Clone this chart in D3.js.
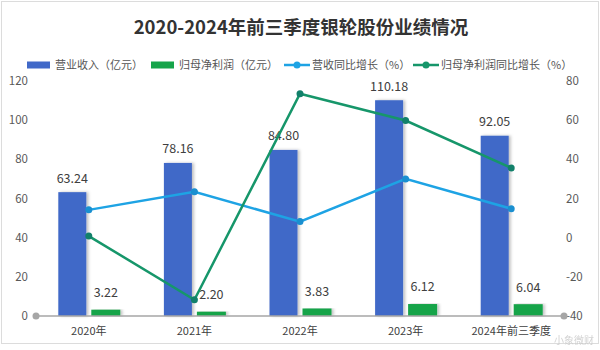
<!DOCTYPE html>
<html>
<head>
<meta charset="utf-8">
<script src="https://cdn.jsdelivr.net/npm/d3@7"></script>
<style>
  body { margin: 0; background: #fff; }
  text { font-family: "Noto Sans CJK SC", "Noto Sans", sans-serif; }
</style>
</head>
<body>
<div id="chart"></div>
<script>
var categories = ['2020年', '2021年', '2022年', '2023年', '2024年前三季度'];
var revenue = [63.24, 78.16, 84.80, 110.18, 92.05];
var netProfit = [3.22, 2.20, 3.83, 6.12, 6.04];
var revenueGrowth = [14.2, 23.4, 8.2, 30.0, 14.8];
var profitGrowth = [0.8, -31.7, 73.5, 59.8, 35.6];
var leftTicks = [0, 20, 40, 60, 80, 100, 120];
var rightTicks = [-40, -20, 0, 20, 40, 60, 80];

var width = 600, height = 350;
var margin = {top: 81, right: 36, bottom: 34, left: 36};

var svg = d3.select('#chart').append('svg')
    .attr('width', width)
    .attr('height', height);

var defs = svg.append('defs');
var shadow = defs.append('filter').attr('id', 'shadow')
    .attr('x', '-20%').attr('y', '-5%').attr('width', '160%').attr('height', '110%');
shadow.append('feDropShadow')
    .attr('dx', 2).attr('dy', 0).attr('stdDeviation', 1.5)
    .attr('flood-color', '#000').attr('flood-opacity', 0.25);

// frame
svg.append('rect')
    .attr('x', 1.5).attr('y', 1.5)
    .attr('width', width - 3).attr('height', 342)
    .attr('fill', '#fff')
    .attr('stroke', '#dcdcdc');

var x = d3.scaleBand()
    .domain(categories)
    .range([margin.left, width - margin.right]);

var yL = d3.scaleLinear().domain([0, 120]).range([height - margin.bottom, margin.top]);
var yR = d3.scaleLinear().domain([-40, 80]).range([height - margin.bottom, margin.top]);

svg.append('text')
    .attr('x', 301).attr('y', 34)
    .attr('text-anchor', 'middle')
    .attr('font-size', 18.5)
    .attr('font-weight', 'bold')
    .attr('fill', '#333')
    .text('2020-2024年前三季度银轮股份业绩情况');

// legend
var legend = svg.append('g').attr('transform', 'translate(0,65)');
var legendItems = [
    {label: '营业收入（亿元）', type: 'bar', color: '#4169c8', x: 27},
    {label: '归母净利润（亿元）', type: 'bar', color: '#16a44a', x: 151},
    {label: '营收同比增长（%）', type: 'line', color: '#1ea3e4', x: 284},
    {label: '归母净利润同比增长（%）', type: 'line', color: '#16966a', x: 413}
];
legendItems.forEach(function (d) {
    var g = legend.append('g').attr('transform', 'translate(' + d.x + ',0)');
    if (d.type === 'bar') {
        g.append('rect').attr('x', 0).attr('y', -3.5).attr('width', 23).attr('height', 7).attr('fill', d.color);
    } else {
        g.append('line').attr('x1', 0).attr('x2', 26).attr('y1', 0).attr('y2', 0)
            .attr('stroke', d.color).attr('stroke-width', 2.5);
        g.append('circle').attr('cx', 13).attr('cy', 0).attr('r', 3.5).attr('fill', d.color);
    }
    g.append('text')
        .attr('x', 28).attr('y', 0).attr('dy', '0.35em')
        .attr('font-size', 11)
        .attr('fill', '#555')
        .text(d.label);
});

// axes tick labels
svg.append('g').selectAll('text')
    .data(leftTicks)
    .enter().append('text')
    .attr('x', 28)
    .attr('y', function (d) { return yL(d); })
    .attr('dy', '0.35em')
    .attr('text-anchor', 'end')
    .attr('font-size', 11.5)
    .attr('fill', '#595959')
    .text(function (d) { return d; });

svg.append('g').selectAll('text')
    .data(rightTicks)
    .enter().append('text')
    .attr('x', 566)
    .attr('y', function (d) { return yR(d); })
    .attr('dy', '0.35em')
    .attr('font-size', 11.5)
    .attr('fill', '#595959')
    .text(function (d) { return d; });

var barW = 28;
var bw = x.bandwidth();

svg.append('g').selectAll('rect')
    .data(revenue)
    .enter().append('rect')
    .attr('x', function (d, i) { return x(categories[i]) + bw / 2 - 16.5 - barW / 2; })
    .attr('y', function (d) { return yL(d); })
    .attr('width', barW)
    .attr('height', function (d) { return yL(0) - yL(d); })
    .attr('fill', '#4169c8')
    .attr('filter', 'url(#shadow)');

svg.append('g').selectAll('rect')
    .data(netProfit)
    .enter().append('rect')
    .attr('x', function (d, i) { return x(categories[i]) + bw / 2 + 17 - 14.5; })
    .attr('y', function (d) { return yL(d); })
    .attr('width', 29)
    .attr('height', function (d) { return yL(0) - yL(d); })
    .attr('fill', '#16a44a')
    .attr('filter', 'url(#shadow)');

// baseline axis
var axisY = yL(0);
svg.append('line')
    .attr('x1', x.range()[0]).attr('x2', x.range()[1])
    .attr('y1', axisY).attr('y2', axisY)
    .attr('stroke', '#a6a6a6').attr('stroke-width', 1.5);
svg.selectAll('circle.end')
    .data(x.range())
    .enter().append('circle')
    .attr('class', 'end')
    .attr('cx', function (d) { return d; })
    .attr('cy', axisY)
    .attr('r', 3.5)
    .attr('fill', '#a6a6a6');

svg.append('g').selectAll('text')
    .data(categories)
    .enter().append('text')
    .attr('x', function (d) { return x(d) + bw / 2; })
    .attr('y', 331)
    .attr('dy', '0.35em')
    .attr('text-anchor', 'middle')
    .attr('font-size', 11)
    .attr('fill', '#404040')
    .text(function (d) { return d; });

// value labels
svg.append('g').selectAll('text')
    .data(revenue)
    .enter().append('text')
    .attr('x', function (d, i) { return x(categories[i]) + bw / 2 - 16.5; })
    .attr('y', function (d) { return yL(d) - 14; })
    .attr('dy', '0.35em')
    .attr('text-anchor', 'middle')
    .attr('font-size', 12.5)
    .attr('fill', '#404040')
    .text(function (d) { return d.toFixed(2); });

svg.append('g').selectAll('text')
    .data(netProfit)
    .enter().append('text')
    .attr('x', function (d, i) { return x(categories[i]) + bw / 2 + 17; })
    .attr('y', function (d) { return yL(d) - 17; })
    .attr('dy', '0.35em')
    .attr('text-anchor', 'middle')
    .attr('font-size', 12.5)
    .attr('fill', '#404040')
    .text(function (d) { return d.toFixed(2); });

// lines
var line = d3.line()
    .x(function (d, i) { return x(categories[i]) + bw / 2; })
    .y(function (d) { return yR(d); });

function drawLine(data, color, dotColor) {
    svg.append('path')
        .datum(data)
        .attr('d', line)
        .attr('fill', 'none')
        .attr('stroke', color)
        .attr('stroke-width', 2.5);
    svg.append('g').selectAll('circle')
        .data(data)
        .enter().append('circle')
        .attr('cx', function (d, i) { return x(categories[i]) + bw / 2; })
        .attr('cy', function (d) { return yR(d); })
        .attr('r', 3.5)
        .attr('fill', dotColor);
}
drawLine(revenueGrowth, '#1ea3e4', '#1a8fd0');
drawLine(profitGrowth, '#16966a', '#12806a');

// watermark
svg.append('text')
    .attr('x', 594).attr('y', 344)
    .attr('text-anchor', 'end')
    .attr('font-size', 10)
    .attr('fill', '#c8c8c8')
    .attr('opacity', 0.8)
    .text('小象微财');
</script>
</body>
</html>
